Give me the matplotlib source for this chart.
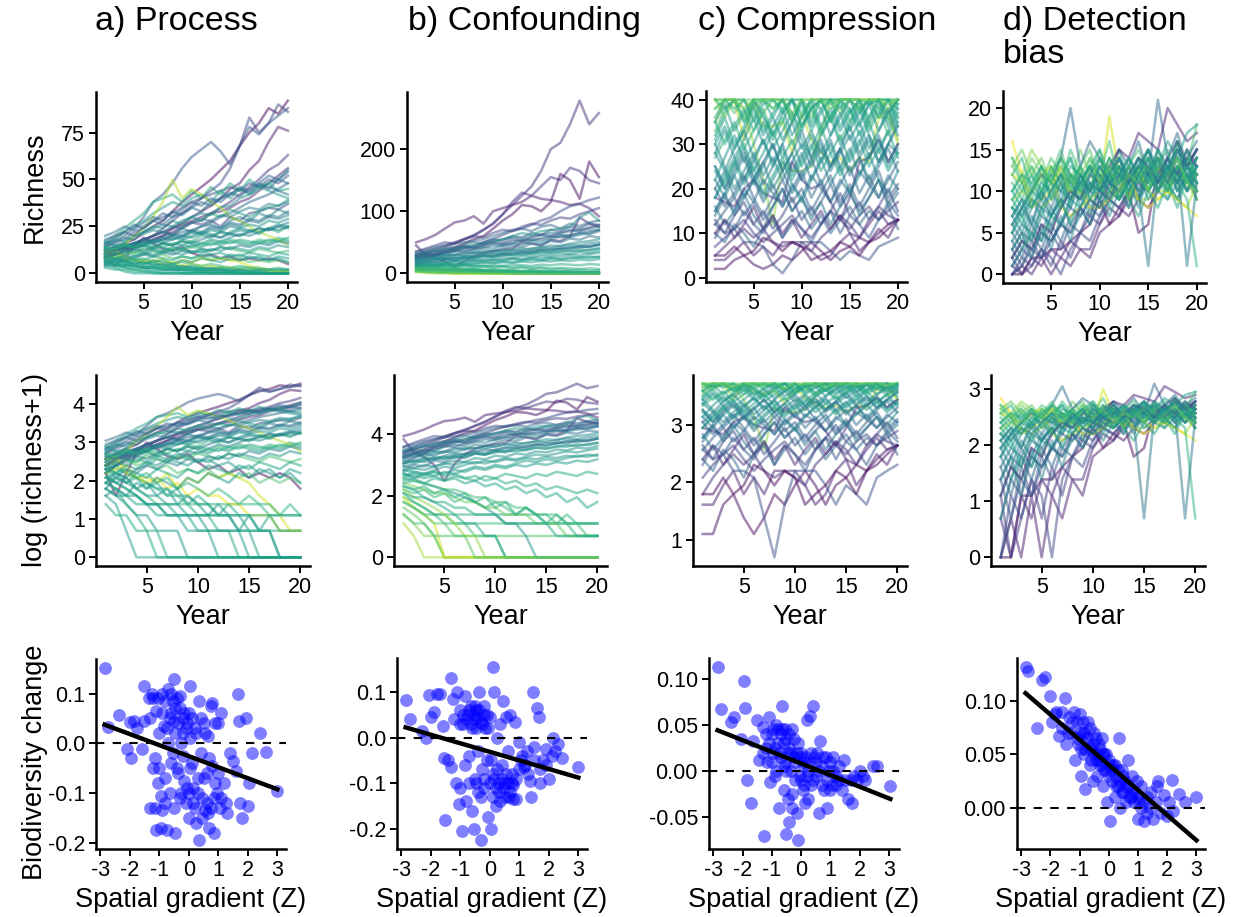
import matplotlib.pyplot as plt
import numpy as np
from matplotlib.colors import Normalize

plt.rcParams['font.family'] = ['Liberation Sans', 'DejaVu Sans']
plt.rcParams['axes.unicode_minus'] = False

years = np.arange(1, 21)

# ---- a) Process: site gradient value and yearly richness per site
z_process = [-2.9, -2.6, -1.3, -2.0, -2.4, -1.8, -1.5, -2.8, 0.2, 0.5, -0.3, 0.0, 0.8, 1.0,
             -0.6, 0.3, 1.3, 0.6, 0.6, 0.3, 0.2, 0.7, 0.4, 0.5, 0.9, 0.7, 2.6, 2.3, 2.8,
             -0.9, -0.1, 0.1, 1.2, -1.0, 0.6, 0.4, -1.7, 0.5, -0.4,
             -0.7, 0.1, -0.4, 0.5, 0.9, -0.2, 0.3, 0.0, -1.1, 0.2, 0.7, -0.5, 0.2, 0.3, -0.8, 0.4]
rich_process = [
    [12, 14, 16, 18, 22, 25, 28, 33, 38, 42, 46, 50, 55, 60, 68, 75, 80, 88, 85, 92],
    [10, 12, 13, 15, 17, 20, 22, 24, 27, 30, 33, 36, 40, 45, 48, 55, 60, 70, 78, 76],
    [14, 17, 20, 24, 30, 38, 42, 48, 56, 62, 66, 70, 65, 58, 68, 78, 74, 80, 84, 88],
    [10, 11, 13, 14, 16, 18, 20, 22, 25, 27, 28, 32, 35, 38, 42, 46, 50, 55, 58, 63],
    [8, 10, 12, 14, 15, 18, 20, 24, 26, 28, 30, 32, 33, 35, 38, 40, 44, 48, 52, 56],
    [12, 13, 15, 16, 18, 20, 22, 21, 24, 27, 26, 28, 25, 30, 28, 32, 33, 35, 34, 37],
    [14, 16, 18, 22, 24, 28, 30, 32, 35, 38, 40, 42, 44, 46, 44, 48, 46, 50, 48, 52],
    [8, 4, 8, 14, 19, 16, 13, 12, 14, 11, 9, 10, 8, 9, 7, 8, 7, 8, 7, 5],
    [15, 18, 22, 25, 28, 32, 35, 38, 36, 40, 42, 38, 44, 40, 45, 42, 46, 44, 42, 40],
    [12, 14, 16, 20, 22, 25, 24, 28, 26, 30, 28, 32, 30, 34, 32, 30, 33, 35, 36, 38],
    [10, 12, 14, 15, 18, 20, 22, 20, 24, 22, 25, 26, 24, 28, 30, 28, 32, 30, 34, 32],
    [16, 18, 17, 20, 22, 24, 26, 25, 28, 30, 32, 31, 35, 36, 40, 42, 45, 48, 50, 55],
    [8, 10, 12, 11, 14, 13, 16, 15, 18, 17, 20, 19, 22, 21, 20, 23, 22, 24, 22, 25],
    [14, 12, 14, 13, 15, 14, 16, 15, 17, 16, 15, 17, 16, 18, 17, 16, 18, 17, 19, 18],
    [11, 13, 12, 15, 17, 16, 18, 20, 19, 22, 21, 24, 23, 26, 25, 28, 27, 30, 29, 31],
    [9, 11, 10, 12, 11, 13, 12, 14, 13, 15, 14, 16, 15, 17, 16, 15, 17, 16, 18, 17],
    [13, 11, 12, 10, 11, 9, 10, 8, 9, 8, 9, 7, 8, 7, 8, 6, 7, 6, 7, 6],
    [17, 20, 24, 28, 32, 38, 40, 42, 38, 44, 40, 46, 42, 48, 44, 50, 46, 48, 44, 45],
    [10, 9, 8, 7, 6, 5, 5, 4, 4, 3, 3, 2, 2, 2, 1, 1, 1, 0, 0, 0],
    [7, 6, 5, 4, 3, 3, 2, 2, 1, 1, 1, 0, 0, 0, 0, 0, 0, 0, 0, 0],
    [5, 4, 3, 2, 2, 1, 1, 1, 0, 0, 0, 0, 0, 0, 0, 0, 0, 0, 0, 0],
    [6, 5, 3, 2, 1, 1, 0, 0, 0, 0, 0, 0, 0, 0, 0, 0, 0, 0, 0, 0],
    [4, 3, 1, 0, 0, 0, 0, 0, 0, 0, 0, 0, 0, 0, 0, 0, 0, 0, 0, 0],
    [8, 6, 5, 4, 3, 3, 3, 2, 2, 2, 2, 2, 2, 1, 1, 1, 1, 1, 1, 1],
    [9, 8, 7, 5, 4, 3, 3, 3, 3, 3, 3, 3, 3, 3, 3, 3, 2, 2, 2, 2],
    [12, 10, 8, 7, 6, 5, 4, 4, 3, 2, 2, 1, 1, 0, 0, 0, 0, 0, 0, 0],
    [12, 13, 8, 7, 7, 6, 8, 5, 7, 6, 8, 7, 8, 7, 6, 4, 3, 2, 1, 1],
    [10, 12, 15, 20, 24, 30, 38, 50, 40, 45, 42, 38, 35, 30, 28, 25, 22, 20, 18, 15],
    [8, 9, 10, 7, 6, 7, 5, 6, 4, 5, 4, 4, 3, 3, 2, 2, 2, 1, 1, 1],
    [18, 20, 22, 20, 25, 28, 26, 30, 32, 35, 33, 38, 40, 42, 45, 43, 47, 45, 50, 48],
    [6, 8, 7, 9, 10, 12, 11, 13, 15, 14, 16, 18, 17, 19, 21, 20, 22, 24, 23, 25],
    [13, 15, 14, 16, 15, 17, 19, 18, 20, 22, 21, 23, 22, 25, 24, 26, 25, 28, 27, 29],
    [11, 10, 12, 11, 13, 12, 11, 13, 12, 14, 13, 12, 14, 13, 12, 11, 13, 12, 11, 12],
    [9, 10, 12, 13, 15, 17, 18, 20, 22, 23, 25, 27, 30, 32, 35, 38, 40, 42, 45, 48],
    [3, 2, 2, 1, 1, 0, 0, 0, 0, 0, 0, 0, 0, 0, 0, 0, 0, 0, 0, 0],
    [5, 4, 4, 3, 3, 2, 2, 2, 2, 1, 1, 1, 1, 1, 1, 0, 0, 0, 0, 0],
    [10, 12, 14, 16, 18, 20, 24, 28, 32, 36, 40, 44, 48, 56, 68, 83, 75, 80, 90, 86],
    [7, 8, 6, 7, 5, 6, 4, 5, 3, 4, 3, 2, 3, 2, 2, 1, 2, 1, 1, 1],
    [5, 7, 9, 8, 10, 9, 11, 10, 12, 11, 13, 12, 14, 13, 15, 14, 16, 15, 17, 16],
    [12, 14, 13, 16, 18, 17, 19, 21, 20, 23, 22, 25, 24, 27, 26, 29, 28, 31, 30, 33],
    [9, 8, 10, 9, 11, 10, 12, 11, 10, 12, 11, 13, 12, 14, 13, 12, 14, 13, 15, 14],
    [15, 17, 19, 18, 21, 23, 22, 25, 24, 27, 29, 28, 31, 30, 33, 35, 34, 37, 36, 39],
    [6, 7, 6, 8, 7, 9, 8, 7, 9, 8, 10, 9, 8, 10, 9, 11, 10, 9, 11, 10],
    [10, 8, 9, 7, 8, 6, 7, 5, 6, 5, 4, 5, 4, 3, 4, 3, 3, 2, 3, 2],
    [13, 12, 14, 16, 15, 17, 16, 18, 20, 19, 21, 20, 22, 21, 23, 22, 24, 23, 25, 24],
    [17, 15, 16, 14, 15, 13, 14, 12, 13, 11, 12, 10, 11, 9, 10, 8, 9, 7, 8, 6],
    [11, 13, 15, 14, 16, 18, 17, 19, 18, 20, 22, 21, 19, 22, 24, 23, 21, 24, 26, 25],
    [16, 19, 22, 26, 24, 28, 32, 30, 34, 38, 36, 40, 38, 42, 46, 44, 48, 52, 50, 54],
    [7, 6, 7, 5, 6, 4, 5, 3, 4, 3, 2, 3, 2, 1, 2, 1, 1, 0, 0, 0],
    [14, 13, 15, 14, 16, 15, 14, 16, 15, 17, 16, 15, 17, 16, 18, 17, 16, 18, 17, 19],
    [8, 10, 11, 13, 12, 14, 16, 15, 17, 16, 18, 20, 19, 21, 20, 22, 24, 23, 25, 27],
    [4, 5, 4, 6, 5, 7, 6, 5, 7, 6, 8, 7, 6, 8, 7, 9, 8, 7, 9, 8],
    [9, 7, 6, 5, 4, 4, 3, 3, 2, 2, 1, 1, 1, 1, 0, 0, 0, 0, 0, 0],
    [20, 22, 25, 23, 27, 30, 28, 33, 31, 35, 38, 36, 40, 43, 41, 45, 48, 46, 44, 42],
    [6, 5, 4, 4, 3, 3, 2, 2, 2, 2, 2, 2, 2, 2, 2, 2, 2, 2, 2, 2],
]

# ---- b) Confounding
z_confound = [-2.2, -2.6, -2.0, -2.8, -1.6, -2.4, -1.2, -0.8, -0.4, 0.0, 0.3, 0.6, -0.2, 0.2,
              0.9, 1.2, 1.5, 1.8, 2.2, 2.6, 1.0, 0.8, 1.3, 0.5, 0.1, -0.6, -1.0, 0.4, 1.6,
              0.7, 2.0, -0.1, 1.1, -1.4,
              -0.5, 0.1, -0.9, 0.5, -0.3, 0.3, -1.1, 0.8, -0.7, 0.0, 1.4, 0.6, -1.8, 0.2]
rich_confound = [
    [28, 32, 36, 42, 48, 55, 62, 70, 80, 95, 110, 125, 140, 165, 200, 210, 240, 278, 240, 258],
    [50, 55, 62, 72, 82, 85, 92, 80, 100, 105, 110, 115, 125, 120, 118, 115, 110, 112, 105, 92],
    [30, 35, 40, 45, 50, 55, 60, 70, 80, 95, 115, 130, 125, 140, 155, 150, 170, 165, 150, 145],
    [25, 28, 32, 38, 42, 48, 55, 60, 72, 85, 95, 110, 108, 100, 115, 160, 150, 120, 180, 155],
    [20, 24, 28, 32, 36, 40, 45, 50, 55, 62, 68, 72, 78, 85, 90, 100, 108, 112, 118, 122],
    [45, 29, 25, 19, 11, 20, 27, 33, 36, 38, 40, 50, 48, 45, 54, 52, 60, 90, 80, 75],
    [26, 30, 28, 35, 40, 45, 42, 50, 55, 52, 60, 58, 65, 62, 70, 68, 75, 72, 80, 78],
    [22, 25, 28, 26, 30, 34, 32, 38, 36, 40, 44, 42, 48, 46, 52, 50, 56, 54, 60, 58],
    [18, 20, 22, 24, 23, 26, 28, 30, 29, 32, 34, 33, 36, 38, 37, 40, 42, 41, 44, 46],
    [15, 17, 16, 18, 20, 22, 21, 24, 23, 26, 25, 28, 27, 30, 29, 32, 31, 34, 33, 36],
    [12, 14, 13, 15, 14, 16, 15, 17, 16, 18, 17, 19, 18, 20, 19, 21, 20, 22, 21, 23],
    [10, 11, 10, 12, 11, 13, 12, 11, 13, 12, 14, 13, 12, 14, 13, 15, 14, 13, 15, 14],
    [25, 28, 32, 30, 35, 38, 36, 42, 40, 45, 48, 46, 52, 50, 55, 60, 58, 62, 65, 70],
    [30, 32, 35, 38, 40, 42, 45, 48, 50, 55, 60, 65, 62, 68, 70, 72, 75, 90, 98, 85],
    [8, 7, 8, 6, 7, 5, 6, 5, 4, 5, 4, 3, 4, 3, 3, 2, 3, 2, 2, 2],
    [6, 5, 4, 3, 3, 2, 2, 1, 1, 1, 0, 0, 0, 0, 0, 0, 0, 0, 0, 0],
    [4, 3, 2, 1, 0, 0, 0, 0, 0, 0, 0, 0, 0, 0, 0, 0, 0, 0, 0, 0],
    [3, 2, 1, 1, 0, 0, 0, 0, 0, 0, 0, 0, 0, 0, 0, 0, 0, 0, 0, 0],
    [2, 1, 0, 0, 0, 0, 0, 0, 0, 0, 0, 0, 0, 0, 0, 0, 0, 0, 0, 0],
    [6, 4, 3, 2, 0, 0, 0, 0, 0, 0, 0, 0, 0, 0, 0, 0, 0, 0, 0, 0],
    [5, 4, 3, 3, 2, 2, 2, 2, 2, 2, 2, 2, 2, 2, 2, 2, 2, 2, 2, 2],
    [7, 5, 4, 3, 3, 3, 3, 3, 3, 3, 3, 3, 3, 3, 2, 2, 2, 2, 2, 2],
    [3, 2, 2, 1, 1, 1, 1, 1, 1, 1, 1, 1, 1, 1, 1, 1, 1, 1, 1, 1],
    [9, 8, 6, 5, 4, 3, 2, 2, 1, 1, 0, 0, 0, 0, 0, 0, 0, 0, 0, 0],
    [14, 12, 10, 9, 8, 7, 6, 5, 4, 3, 2, 2, 1, 0, 0, 0, 0, 0, 0, 0],
    [32, 35, 38, 40, 42, 45, 50, 48, 52, 55, 58, 56, 60, 62, 65, 64, 68, 70, 72, 75],
    [35, 38, 42, 45, 48, 50, 52, 55, 60, 65, 70, 72, 68, 75, 78, 72, 80, 76, 82, 85],
    [20, 22, 21, 23, 25, 24, 26, 28, 27, 30, 29, 32, 31, 34, 33, 36, 35, 38, 37, 40],
    [10, 9, 8, 7, 7, 6, 5, 5, 4, 4, 3, 3, 3, 2, 2, 2, 1, 1, 1, 1],
    [16, 15, 14, 15, 13, 14, 12, 13, 11, 12, 10, 11, 9, 10, 8, 9, 8, 7, 8, 7],
    [8, 6, 5, 4, 3, 2, 1, 1, 0, 0, 0, 0, 0, 0, 0, 0, 0, 0, 0, 0],
    [24, 26, 25, 28, 30, 29, 32, 34, 33, 36, 38, 37, 40, 42, 45, 44, 48, 50, 52, 55],
    [12, 11, 10, 9, 8, 8, 7, 6, 6, 5, 5, 4, 4, 3, 3, 3, 2, 2, 1, 1],
    [28, 32, 30, 35, 38, 42, 40, 46, 50, 48, 55, 52, 58, 62, 60, 66, 70, 68, 74, 78],
    [20, 22, 24, 23, 26, 28, 27, 30, 32, 31, 34, 36, 35, 38, 40, 39, 42, 44, 43, 46],
    [18, 17, 19, 18, 20, 19, 21, 20, 22, 21, 23, 22, 24, 23, 25, 24, 26, 25, 27, 26],
    [30, 33, 36, 35, 39, 42, 41, 45, 48, 47, 51, 54, 53, 57, 60, 58, 62, 65, 63, 68],
    [14, 13, 12, 13, 11, 12, 10, 11, 9, 10, 8, 9, 7, 8, 6, 7, 5, 6, 4, 5],
    [26, 28, 27, 30, 29, 32, 34, 33, 36, 35, 38, 40, 39, 42, 41, 44, 46, 45, 48, 50],
    [11, 12, 14, 13, 15, 14, 16, 18, 17, 19, 18, 20, 22, 21, 23, 22, 24, 26, 25, 27],
    [24, 27, 30, 33, 36, 35, 39, 42, 45, 44, 48, 52, 55, 54, 58, 62, 60, 65, 68, 70],
    [9, 8, 9, 7, 8, 6, 7, 5, 6, 4, 5, 3, 4, 3, 2, 3, 2, 1, 1, 1],
    [16, 19, 18, 22, 21, 25, 24, 28, 27, 31, 30, 34, 33, 37, 36, 40, 39, 43, 42, 46],
    [22, 21, 23, 25, 24, 26, 25, 28, 27, 29, 31, 30, 32, 34, 33, 35, 37, 36, 38, 40],
    [5, 4, 3, 2, 2, 1, 1, 0, 0, 0, 0, 0, 0, 0, 0, 0, 0, 0, 0, 0],
    [7, 6, 6, 5, 5, 4, 4, 3, 3, 3, 2, 2, 2, 2, 2, 1, 1, 1, 1, 1],
    [35, 40, 45, 50, 48, 55, 60, 58, 65, 70, 68, 75, 80, 78, 85, 90, 88, 95, 100, 105],
    [13, 15, 14, 16, 18, 17, 19, 21, 20, 22, 24, 23, 25, 27, 26, 28, 30, 29, 31, 33],
]

# ---- c) Compression (richness capped at 40)
z_compress = [2.4, 2.0, -2.8, -2.5, -2.2, -1.5, -1.0, -1.8, -0.5, 0.0, 0.5, 1.0, -0.2, 0.3,
              -0.8, 0.7, 1.4, -1.2, 0.2, -0.3, -2.0, -2.9, 0.9, 1.8, -0.6, 0.4, -1.3, 1.2,
              -0.1, -2.3,
              0.6, -0.4, 0.1, -0.9, 0.8, -0.7, 0.3, -1.6, -0.1, 1.6, 0.0, -1.1, 0.5]
rich_compress = [
    [35, 40, 40, 31, 40, 34, 34, 35, 28, 37, 31, 28, 26, 27, 24, 27, 26, 36, 38, 30],
    [38, 40, 40, 38, 30, 22, 12, 26, 24, 24, 25, 33, 40, 40, 40, 40, 40, 36, 36, 31],
    [2, 2, 4, 5, 3, 2, 3, 5, 4, 6, 8, 6, 4, 6, 7, 9, 8, 10, 12, 13],
    [4, 4, 6, 8, 5, 7, 5, 8, 8, 7, 6, 4, 5, 8, 10, 6, 8, 11, 9, 13],
    [5, 7, 9, 11, 9, 11, 8, 7, 8, 8, 6, 9, 11, 14, 12, 9, 13, 16, 14, 13],
    [12, 10, 11, 8, 8, 7, 3, 1, 4, 8, 8, 8, 6, 4, 6, 5, 4, 7, 8, 9],
    [10, 8, 12, 10, 7, 11, 13, 9, 12, 15, 11, 14, 10, 13, 16, 12, 15, 13, 17, 14],
    [7, 9, 11, 13, 10, 8, 10, 12, 14, 11, 9, 12, 15, 13, 11, 14, 16, 13, 15, 17],
    [20, 24, 18, 22, 27, 21, 25, 30, 24, 28, 22, 26, 31, 25, 29, 23, 27, 32, 26, 30],
    [28, 33, 27, 31, 36, 30, 34, 38, 32, 36, 40, 34, 38, 33, 37, 40, 35, 39, 34, 38],
    [32, 37, 40, 35, 39, 40, 36, 40, 37, 33, 38, 40, 36, 40, 38, 34, 39, 40, 37, 40],
    [38, 40, 40, 36, 40, 40, 38, 40, 40, 37, 40, 40, 39, 40, 40, 38, 40, 40, 40, 39],
    [15, 19, 23, 18, 22, 26, 20, 24, 28, 22, 26, 30, 25, 29, 24, 27, 22, 26, 30, 28],
    [25, 21, 26, 30, 24, 28, 33, 27, 31, 25, 29, 34, 28, 32, 26, 30, 35, 29, 33, 27],
    [14, 18, 15, 20, 17, 22, 19, 16, 21, 18, 23, 20, 17, 22, 19, 24, 21, 18, 23, 20],
    [35, 30, 34, 38, 33, 37, 31, 35, 40, 34, 38, 32, 36, 40, 35, 39, 33, 37, 40, 36],
    [40, 40, 37, 40, 40, 40, 38, 40, 40, 40, 36, 40, 40, 40, 40, 38, 40, 40, 40, 40],
    [12, 15, 18, 14, 17, 13, 16, 20, 15, 18, 14, 17, 21, 16, 19, 15, 18, 22, 17, 20],
    [22, 27, 32, 26, 30, 35, 29, 33, 37, 31, 27, 32, 36, 30, 34, 38, 32, 28, 33, 37],
    [30, 25, 20, 24, 28, 23, 27, 22, 26, 30, 25, 29, 24, 28, 32, 27, 31, 26, 30, 34],
    [18, 17, 16, 20, 22, 19, 18, 17, 26, 22, 20, 21, 17, 13, 18, 26, 27, 31, 26, 30],
    [5, 5, 7, 5, 6, 9, 8, 6, 8, 7, 4, 5, 6, 8, 7, 5, 8, 9, 11, 13],
    [27, 31, 35, 29, 33, 38, 32, 36, 30, 34, 39, 33, 37, 31, 35, 40, 34, 38, 32, 36],
    [40, 36, 40, 40, 38, 40, 40, 40, 35, 40, 40, 40, 40, 37, 40, 40, 40, 40, 38, 40],
    [16, 12, 15, 19, 14, 11, 16, 20, 15, 18, 13, 17, 12, 16, 20, 14, 18, 22, 16, 19],
    [18, 22, 26, 21, 25, 19, 23, 27, 22, 26, 30, 24, 28, 23, 27, 31, 25, 29, 24, 28],
    [9, 13, 11, 15, 12, 10, 14, 9, 13, 11, 8, 12, 15, 10, 14, 12, 9, 13, 16, 11],
    [33, 38, 40, 35, 40, 37, 40, 40, 36, 40, 38, 40, 35, 40, 40, 37, 40, 38, 40, 40],
    [24, 20, 25, 29, 23, 18, 22, 26, 21, 17, 22, 27, 21, 25, 19, 23, 28, 22, 19, 24],
    [10, 13, 9, 12, 16, 11, 14, 10, 13, 9, 12, 15, 11, 14, 10, 9, 12, 15, 12, 13],
    [36, 40, 38, 40, 35, 39, 40, 37, 40, 36, 40, 38, 40, 40, 37, 40, 39, 40, 36, 40],
    [22, 18, 23, 27, 21, 25, 30, 24, 28, 33, 27, 31, 25, 29, 34, 28, 32, 26, 30, 35],
    [30, 34, 29, 33, 38, 32, 36, 31, 35, 40, 34, 38, 32, 36, 40, 35, 39, 33, 37, 40],
    [15, 19, 14, 18, 22, 17, 21, 16, 20, 24, 18, 22, 17, 21, 25, 19, 23, 18, 22, 26],
    [40, 38, 40, 40, 36, 40, 40, 38, 40, 40, 35, 40, 40, 38, 40, 40, 36, 40, 40, 38],
    [25, 20, 24, 28, 22, 26, 30, 24, 19, 23, 27, 21, 25, 29, 23, 27, 21, 25, 29, 24],
    [35, 39, 33, 37, 40, 36, 32, 37, 40, 34, 38, 40, 35, 39, 33, 37, 40, 36, 40, 34],
    [13, 10, 14, 17, 12, 15, 11, 14, 18, 13, 16, 12, 15, 19, 14, 17, 13, 16, 20, 15],
    [28, 24, 29, 33, 27, 31, 26, 30, 35, 29, 33, 28, 32, 37, 31, 35, 29, 33, 38, 32],
    [40, 40, 40, 38, 40, 40, 40, 40, 37, 40, 40, 40, 38, 40, 40, 40, 40, 40, 39, 40],
    [18, 23, 27, 22, 26, 31, 25, 29, 23, 27, 32, 26, 30, 24, 28, 33, 27, 31, 25, 29],
    [20, 16, 19, 23, 18, 14, 18, 22, 17, 20, 15, 19, 23, 17, 21, 16, 20, 24, 18, 21],
    [31, 36, 30, 34, 39, 33, 37, 40, 35, 39, 33, 37, 40, 34, 38, 32, 36, 40, 35, 39],
]

# ---- d) Detection bias
z_detect = [-2.9, -2.6, -2.3, -2.0, -1.7, -1.4, -1.1, -0.8, -0.5, -0.2, 0.1, 0.4, 0.7, 1.0,
            1.3, 1.6, 1.9, 2.2, 2.6, 2.9, 0.0, -0.3, 0.6, -0.9, -2.4, 0.9, -0.6, 1.2, 0.3, -1.5,
            0.2, -0.4, 0.5, -0.1, 0.8, -0.7, 1.1, 0.0, -1.2, 0.4, 1.5, -0.2]
rich_detect = [
    [0, 0, 2, 2, 3, 3, 4, 5, 6, 9, 6, 7, 10, 5, 6, 13, 11, 15, 13, 14],
    [0, 1, 0, 2, 0, 2, 1, 3, 2, 5, 6, 8, 7, 9, 8, 10, 12, 11, 13, 12],
    [1, 0, 2, 1, 3, 2, 4, 3, 3, 6, 8, 7, 9, 11, 10, 12, 11, 14, 13, 15],
    [2, 0, 1, 3, 1, 4, 2, 5, 7, 6, 9, 8, 10, 9, 12, 11, 13, 12, 14, 13],
    [0, 2, 1, 3, 2, 0, 3, 5, 4, 7, 9, 8, 10, 12, 11, 14, 12, 16, 13, 15],
    [3, 1, 4, 2, 5, 3, 6, 5, 8, 7, 10, 9, 11, 13, 10, 12, 14, 11, 13, 12],
    [4, 2, 5, 3, 6, 4, 7, 8, 6, 9, 11, 10, 12, 9, 13, 11, 14, 12, 10, 13],
    [5, 3, 6, 4, 7, 9, 6, 8, 10, 9, 12, 11, 8, 12, 10, 13, 11, 9, 12, 14],
    [6, 4, 7, 5, 8, 6, 9, 11, 8, 10, 13, 9, 12, 10, 14, 11, 13, 10, 12, 11],
    [7, 5, 8, 10, 7, 9, 12, 8, 11, 9, 12, 10, 13, 9, 11, 14, 10, 12, 15, 11],
    [8, 6, 9, 7, 10, 8, 11, 13, 9, 12, 10, 14, 11, 9, 13, 10, 12, 16, 11, 13],
    [9, 7, 10, 12, 9, 11, 8, 12, 10, 13, 11, 9, 12, 14, 10, 13, 11, 8, 12, 10],
    [10, 8, 11, 9, 12, 14, 10, 13, 11, 9, 12, 15, 11, 13, 10, 12, 9, 13, 11, 14],
    [11, 9, 12, 10, 13, 11, 15, 12, 10, 14, 11, 13, 10, 12, 15, 11, 14, 10, 13, 11],
    [12, 10, 13, 11, 14, 12, 10, 13, 15, 11, 14, 12, 9, 13, 11, 15, 12, 14, 10, 12],
    [13, 11, 14, 12, 10, 13, 11, 15, 12, 10, 14, 11, 13, 12, 10, 14, 11, 13, 12, 9],
    [14, 12, 15, 13, 11, 14, 12, 10, 13, 11, 9, 13, 11, 12, 10, 13, 10, 12, 11, 9],
    [9, 10, 9, 8, 9, 11, 10, 10, 9, 8, 10, 11, 10, 9, 9, 10, 10, 9, 8, 11],
    [12, 11, 10, 12, 13, 8, 7, 8, 9, 10, 19, 12, 9, 13, 10, 9, 10, 13, 11, 12],
    [16, 12, 8, 9, 10, 13, 9, 10, 8, 8, 9, 10, 12, 9, 8, 9, 10, 9, 8, 7],
    [2, 4, 3, 5, 4, 6, 5, 7, 9, 8, 10, 9, 11, 8, 12, 10, 9, 11, 13, 10],
    [3, 5, 2, 6, 3, 7, 4, 8, 6, 9, 7, 10, 8, 12, 9, 11, 13, 10, 12, 9],
    [5, 7, 4, 8, 5, 9, 6, 10, 7, 11, 8, 12, 9, 7, 10, 8, 11, 9, 12, 10],
    [6, 8, 10, 12, 11, 14, 20, 13, 16, 14, 12, 15, 13, 16, 12, 21, 14, 17, 13, 15],
    [2, 4, 3, 6, 5, 8, 10, 9, 12, 11, 13, 15, 14, 17, 16, 15, 20, 18, 16, 17],
    [8, 10, 12, 9, 13, 11, 14, 10, 12, 15, 11, 13, 9, 12, 14, 10, 13, 11, 9, 1],
    [7, 9, 6, 10, 8, 11, 9, 12, 10, 13, 11, 14, 12, 10, 1, 12, 10, 13, 1, 11],
    [10, 12, 9, 13, 11, 8, 12, 10, 14, 12, 16, 11, 13, 15, 12, 14, 11, 16, 13, 18],
    [1, 3, 5, 4, 7, 6, 9, 8, 11, 10, 13, 12, 14, 12, 15, 13, 16, 14, 17, 18],
    [0, 1, 3, 2, 4, 6, 5, 8, 7, 10, 9, 12, 11, 13, 15, 12, 14, 16, 13, 15],
    [6, 8, 10, 9, 11, 10, 12, 11, 13, 12, 10, 13, 11, 14, 12, 10, 13, 11, 14, 12],
    [4, 6, 5, 8, 7, 9, 8, 11, 10, 12, 9, 11, 13, 10, 12, 14, 11, 13, 10, 12],
    [10, 12, 11, 13, 9, 12, 14, 11, 13, 10, 12, 14, 11, 13, 15, 12, 10, 13, 11, 14],
    [8, 7, 9, 8, 10, 12, 9, 11, 13, 10, 12, 9, 11, 14, 12, 10, 13, 15, 12, 10],
    [12, 14, 10, 13, 11, 14, 12, 10, 13, 15, 12, 11, 14, 12, 10, 13, 15, 11, 13, 12],
    [3, 5, 4, 7, 6, 8, 10, 9, 11, 10, 12, 14, 11, 13, 12, 15, 13, 11, 14, 16],
    [14, 11, 13, 10, 12, 15, 11, 13, 10, 14, 12, 9, 13, 11, 14, 12, 10, 13, 15, 11],
    [7, 9, 8, 11, 10, 12, 11, 9, 12, 14, 11, 13, 10, 12, 14, 11, 13, 12, 10, 13],
    [1, 3, 2, 5, 4, 6, 8, 7, 9, 8, 11, 10, 12, 14, 13, 11, 14, 12, 15, 13],
    [9, 11, 8, 10, 12, 10, 13, 12, 9, 11, 14, 12, 10, 13, 11, 15, 12, 14, 11, 13],
    [13, 15, 12, 14, 11, 13, 10, 12, 14, 11, 13, 10, 12, 11, 13, 10, 12, 14, 11, 10],
    [5, 8, 6, 9, 7, 10, 9, 12, 10, 13, 11, 12, 14, 11, 13, 10, 12, 15, 13, 11],
]

# ---- biodiversity change against spatial gradient, (Z, change) per site
points_process = [
    (-2.85, 0.152), (-2.75, 0.032), (-2.35, 0.056), (-2.1, -0.012), (-2.0, 0.042), (-1.95, -0.03),
    (-1.85, 0.045), (-1.75, 0.03), (-1.6, -0.011), (-1.5, 0.045), (-1.5, 0.115), (-1.35, 0.09),
    (-1.3, 0.05), (-1.25, 0.1), (-1.2, 0.09), (-1.15, -0.03), (-1.15, -0.13), (-1.1, 0.065),
    (-1.1, -0.175), (-1.05, -0.08), (-1.0, 0.02), (-1.0, -0.05), (-0.95, -0.105), (-0.95, -0.17),
    (-0.9, 0.1), (-0.9, -0.135), (-0.85, 0.035), (-0.8, -0.07), (-0.8, -0.12), (-0.75, -0.175),
    (-0.7, 0.11), (-0.7, 0.0), (-0.65, -0.1), (-0.6, 0.06), (-0.6, -0.04), (-0.55, 0.085),
    (-0.5, 0.13), (-0.5, -0.13), (-0.45, 0.02), (-0.45, -0.18), (-0.4, 0.09), (-0.4, -0.05),
    (-0.35, 0.04), (-0.3, -0.11), (-0.3, 0.07), (-0.25, 0.0), (-0.2, -0.025), (-0.2, 0.05),
    (-0.15, -0.075), (-0.1, 0.03), (-0.05, -0.09), (0.0, -0.15), (0.05, 0.115), (0.05, 0.01),
    (0.1, -0.04), (0.15, -0.12), (0.2, 0.03), (0.25, -0.16), (0.3, -0.07), (0.35, 0.085),
    (0.35, -0.195), (0.4, -0.02), (0.45, -0.11), (0.5, 0.04), (0.55, -0.135), (0.6, -0.06),
    (0.65, 0.015), (0.7, -0.17), (0.75, 0.075), (0.8, -0.045), (0.85, -0.18), (0.9, 0.04),
    (0.95, -0.1), (1.0, -0.06), (1.05, -0.13), (1.1, 0.06), (1.2, -0.08), (1.3, -0.14),
    (1.4, -0.02), (1.5, -0.035), (1.6, -0.055), (1.65, 0.1), (1.7, 0.045), (1.75, -0.12),
    (1.8, -0.15), (1.95, 0.05), (2.0, -0.125), (2.05, -0.08), (2.15, -0.02), (2.4, 0.02),
    (2.6, -0.018), (3.0, -0.095),
    (-0.9, 0.06), (-0.8, 0.085), (-0.75, 0.03), (-0.6, 0.1), (-0.55, -0.02), (-0.5, 0.045),
    (-0.45, 0.07), (-0.35, -0.06), (-0.3, 0.095), (-0.25, -0.1), (-0.2, 0.02), (-0.15, 0.06),
    (-0.1, -0.12), (-0.05, 0.04), (0.0, 0.06), (0.0, -0.1), (0.05, -0.05), (0.1, 0.05),
    (0.15, -0.09), (0.2, -0.13), (0.25, 0.02), (0.3, -0.1), (0.4, 0.05), (0.45, -0.15),
    (0.5, -0.07), (0.55, 0.02), (0.6, -0.12), (0.65, -0.14), (0.7, -0.03), (0.75, -0.13),
    (0.8, 0.08), (0.85, -0.11), (0.9, -0.08), (1.0, 0.04), (1.1, -0.11), (1.25, -0.12),
    (-1.2, -0.05), (-1.3, -0.13), (-1.05, 0.09), (-0.65, 0.05),
]
points_confound = [
    (-2.85, 0.083), (-2.7, 0.04), (-2.3, 0.015), (-2.15, 0.0), (-2.05, 0.093), (-2.0, 0.045),
    (-1.9, 0.055), (-1.8, 0.095), (-1.7, 0.095), (-1.6, 0.025), (-1.55, -0.045), (-1.5, -0.18),
    (-1.4, -0.05), (-1.3, 0.13), (-1.3, -0.065), (-1.25, 0.085), (-1.2, 0.04), (-1.15, -0.1),
    (-1.1, 0.1), (-1.05, -0.145), (-1.0, 0.06), (-1.0, -0.11), (-0.95, -0.205), (-0.9, 0.03),
    (-0.85, 0.09), (-0.85, -0.06), (-0.8, -0.14), (-0.75, 0.05), (-0.7, -0.04), (-0.7, -0.1),
    (-0.65, 0.07), (-0.6, 0.02), (-0.6, -0.16), (-0.55, -0.2), (-0.5, 0.04), (-0.5, -0.09),
    (-0.45, 0.06), (-0.4, -0.03), (-0.4, -0.12), (-0.35, 0.1), (-0.3, 0.035), (-0.3, -0.225),
    (-0.25, -0.07), (-0.2, 0.05), (-0.2, -0.11), (-0.15, 0.02), (-0.1, -0.05), (-0.05, -0.175),
    (0.0, 0.045), (0.05, -0.2), (0.1, 0.155), (0.1, -0.08), (0.15, 0.1), (0.2, -0.15),
    (0.25, 0.0), (0.3, -0.12), (0.35, 0.03), (0.4, -0.06), (0.45, 0.08), (0.5, -0.1),
    (0.55, 0.045), (0.6, -0.03), (0.65, -0.13), (0.7, 0.05), (0.75, -0.08), (0.8, -0.105),
    (0.85, 0.035), (0.9, -0.135), (1.0, -0.01), (1.05, -0.05), (1.15, -0.065), (1.25, -0.03),
    (1.35, -0.095), (1.4, -0.13), (1.45, 0.1), (1.5, -0.02), (1.6, 0.065), (1.65, 0.045),
    (1.7, -0.1), (1.8, -0.05), (1.9, -0.025), (2.0, -0.09), (2.1, -0.04), (2.15, 0.0),
    (2.3, -0.015), (2.45, -0.045), (3.0, -0.065),
    (-1.0, 0.03), (-0.9, 0.05), (-0.8, 0.04), (-0.7, 0.06), (-0.65, 0.03), (-0.55, 0.05),
    (-0.5, 0.07), (-0.45, 0.02), (-0.4, 0.045), (-0.35, 0.06), (-0.25, 0.03), (-0.2, 0.07),
    (-0.1, 0.05), (-0.05, 0.02), (0.0, -0.1), (0.05, -0.05), (0.1, -0.13), (0.15, -0.09),
    (0.2, -0.11), (0.25, -0.07), (0.3, -0.1), (0.35, -0.14), (0.4, -0.09), (0.45, -0.11),
    (0.5, -0.13), (0.55, -0.08), (0.6, -0.1), (0.7, -0.12), (0.75, -0.1), (0.8, -0.135),
    (0.9, -0.09), (1.0, -0.07), (1.1, -0.04), (1.2, -0.06), (1.3, -0.08), (1.5, -0.05),
    (1.7, -0.07), (1.9, -0.06), (2.2, -0.03), (-0.45, -0.1), (-0.3, -0.13), (-0.2, -0.09),
]
points_compress = [
    (-2.85, 0.113), (-2.75, 0.067), (-2.4, 0.053), (-2.3, 0.058), (-2.05, 0.035), (-1.95, 0.097),
    (-1.9, 0.068), (-1.85, -0.01), (-1.7, -0.035), (-1.65, 0.033), (-1.5, 0.055), (-1.45, 0.012),
    (-1.3, 0.048), (-1.25, -0.07), (-1.2, 0.025), (-1.15, 0.01), (-1.1, 0.058), (-1.05, -0.012),
    (-1.0, 0.04), (-0.95, 0.02), (-0.9, -0.005), (-0.85, 0.05), (-0.8, 0.03), (-0.75, -0.04),
    (-0.7, 0.015), (-0.65, 0.07), (-0.65, 0.045), (-0.6, -0.02), (-0.55, 0.01), (-0.5, 0.035),
    (-0.5, -0.068), (-0.45, -0.03), (-0.4, 0.025), (-0.4, -0.055), (-0.35, 0.0), (-0.3, 0.045),
    (-0.3, -0.025), (-0.25, 0.015), (-0.2, -0.01), (-0.15, -0.045), (-0.1, 0.03), (-0.1, -0.075),
    (-0.05, -0.005), (0.0, 0.02), (0.05, -0.02), (0.1, 0.01), (0.15, -0.035), (0.2, 0.055),
    (0.25, 0.0), (0.3, 0.06), (0.35, -0.015), (0.4, 0.07), (0.45, 0.015), (0.5, -0.005),
    (0.55, 0.02), (0.6, -0.045), (0.65, 0.032), (0.7, 0.005), (0.8, -0.02), (0.85, 0.015),
    (0.9, -0.04), (0.95, 0.0), (1.0, 0.01), (1.05, -0.015), (1.1, 0.015), (1.2, -0.005),
    (1.3, 0.005), (1.4, -0.02), (1.45, 0.012), (1.5, -0.01), (1.6, -0.03), (1.7, -0.01),
    (1.75, -0.035), (1.8, -0.005), (1.9, -0.01), (2.0, 0.0), (2.1, -0.005), (2.2, -0.01),
    (2.45, 0.005), (2.6, 0.005), (3.05, -0.016),
    (-1.2, 0.04), (-1.1, 0.03), (-1.0, 0.01), (-0.95, 0.045), (-0.9, 0.025), (-0.85, 0.0),
    (-0.8, 0.045), (-0.75, 0.02), (-0.7, 0.04), (-0.6, 0.03), (-0.55, 0.045), (-0.5, 0.0),
    (-0.45, 0.02), (-0.4, 0.04), (-0.35, 0.02), (-0.25, 0.035), (-0.2, 0.01), (-0.15, 0.02),
    (-0.05, 0.015), (0.0, -0.01), (0.05, 0.005), (0.1, -0.015), (0.15, 0.015), (0.2, -0.005),
    (0.3, 0.01), (0.35, 0.02), (0.4, -0.01), (0.5, 0.01), (0.6, 0.0), (0.7, -0.015),
    (0.75, 0.015), (0.9, -0.01), (1.0, -0.02), (1.1, 0.0), (1.2, -0.015), (1.3, -0.01),
    (-1.3, 0.02), (-0.3, -0.04), (0.25, -0.03), (-0.6, 0.005),
]
points_detect = [
    (-2.85, 0.132), (-2.75, 0.128), (-2.3, 0.12), (-2.2, 0.122), (-2.45, 0.075), (-2.0, 0.105),
    (-1.95, 0.08), (-1.85, 0.088), (-1.7, 0.067), (-1.6, 0.09), (-1.5, 0.103), (-1.45, 0.06),
    (-1.35, 0.085), (-1.3, 0.07), (-1.2, 0.09), (-1.15, 0.045), (-1.1, 0.08), (-1.05, 0.06),
    (-1.0, 0.088), (-0.95, 0.03), (-0.9, 0.07), (-0.85, 0.05), (-0.8, 0.018), (-0.75, 0.065),
    (-0.7, 0.08), (-0.65, 0.04), (-0.6, 0.055), (-0.55, 0.025), (-0.5, 0.07), (-0.45, 0.045),
    (-0.4, 0.03), (-0.35, 0.06), (-0.3, 0.04), (-0.25, 0.065), (-0.2, 0.02), (-0.15, 0.05),
    (-0.1, 0.035), (-0.05, 0.005), (0.0, 0.045), (0.05, -0.012), (0.1, 0.025), (0.15, 0.04),
    (0.2, 0.01), (0.25, 0.03), (0.3, 0.02), (0.35, 0.065), (0.4, 0.0), (0.45, 0.035),
    (0.5, 0.015), (0.55, 0.025), (0.6, 0.005), (0.65, 0.045), (0.7, 0.02), (0.75, 0.01),
    (0.8, 0.03), (0.9, 0.015), (0.95, 0.025), (1.0, -0.01), (1.05, 0.005), (1.1, 0.02),
    (1.2, -0.012), (1.3, 0.01), (1.4, 0.0), (1.45, 0.015), (1.5, -0.01), (1.6, 0.005),
    (1.65, 0.02), (1.7, 0.025), (1.8, -0.005), (1.9, 0.012), (2.0, -0.008), (2.05, 0.005),
    (2.15, 0.026), (2.2, -0.003), (2.4, 0.013), (2.6, 0.005), (3.0, 0.01),
    (-1.4, 0.07), (-1.25, 0.08), (-1.1, 0.065), (-1.0, 0.07), (-0.95, 0.055), (-0.9, 0.08),
    (-0.85, 0.07), (-0.8, 0.055), (-0.7, 0.06), (-0.65, 0.075), (-0.6, 0.045), (-0.55, 0.06),
    (-0.5, 0.05), (-0.45, 0.065), (-0.4, 0.05), (-0.35, 0.045), (-0.3, 0.055), (-0.25, 0.04),
    (-0.2, 0.05), (-0.15, 0.035), (-0.1, 0.05), (0.0, 0.03), (0.05, 0.04), (0.1, 0.035),
    (0.2, 0.04), (0.25, 0.02), (0.3, 0.035), (0.4, 0.025), (0.45, 0.015), (0.5, 0.03),
    (0.6, 0.02), (0.7, 0.01), (0.8, 0.015), (0.85, 0.005), (1.0, 0.01), (1.1, 0.0),
    (1.2, 0.005), (1.3, -0.005), (-1.6, 0.075), (-1.8, 0.09),
]

titles = ['a) Process', 'b) Confounding', 'c) Compression', 'd) Detection\nbias']
title_x = [95, 408, 698, 1003]
z_all = [z_process, z_confound, z_compress, z_detect]
rich_all = [rich_process, rich_confound, rich_compress, rich_detect]
points_all = [points_process, points_confound, points_compress, points_detect]

rich_ticks = [[0, 25, 50, 75], [0, 100, 200], [0, 10, 20, 30, 40], [0, 5, 10, 15, 20]]
log_ticks = [[0, 1, 2, 3, 4], [0, 2, 4], [1, 2, 3], [0, 1, 2, 3]]
change_ticks = [[-0.2, -0.1, 0.0, 0.1], [-0.2, -0.1, 0.0, 0.1],
                [-0.05, 0.0, 0.05, 0.10], [0.0, 0.05, 0.10]]
change_fmt = ['%.1f', '%.1f', '%.2f', '%.2f']

# panel boxes in pixels: left, top, right, bottom
boxes_rich = [(96, 92, 297, 282), (407, 92, 608, 282), (706, 91, 907, 282), (1003, 91, 1206, 283)]
boxes_log = [(96, 375, 310, 566), (394, 375, 607, 566), (693, 375, 907, 566), (991, 375, 1205, 566)]
boxes_change = [(96, 659, 286, 849), (397, 658, 587, 849), (709, 658, 899, 849), (1017, 658, 1205, 849)]

W, H = 1239, 917
fig = plt.figure(figsize=(W / 100, H / 100), dpi=100)
cmap = plt.get_cmap('viridis')
norm = Normalize(-3, 3)

TICK_SIZE = 15.5
LABEL_SIZE = 19.5


def panel(box):
    l, t, r, b = box
    ax = fig.add_axes([l / W, 1 - b / H, (r - l) / W, (b - t) / H])
    ax.spines['top'].set_visible(False)
    ax.spines['right'].set_visible(False)
    ax.spines['left'].set_linewidth(1.8)
    ax.spines['bottom'].set_linewidth(1.8)
    ax.tick_params(length=5, width=1.4, labelsize=TICK_SIZE, pad=3, colors='black')
    return ax


for i in range(4):
    # raw richness
    ax = panel(boxes_rich[i])
    for z, r in zip(z_all[i], rich_all[i]):
        ax.plot(years, r, color=cmap(norm(z)), alpha=0.5, lw=1.8)
    ax.set_xticks([5, 10, 15, 20])
    ax.set_yticks(rich_ticks[i])
    ax.set_xlabel('Year', fontsize=LABEL_SIZE, labelpad=4)

    # log-transformed richness
    ax = panel(boxes_log[i])
    for z, r in zip(z_all[i], rich_all[i]):
        ax.plot(years, np.log1p(r), color=cmap(norm(z)), alpha=0.5, lw=1.8)
    ax.set_xticks([5, 10, 15, 20])
    ax.set_yticks(log_ticks[i])
    ax.set_xlabel('Year', fontsize=LABEL_SIZE, labelpad=4)

    # change vs gradient with linear fit
    ax = panel(boxes_change[i])
    gx, gy = np.array(points_all[i]).T
    ax.scatter(gx, gy, s=85, color='#0000ff', alpha=0.5, linewidths=0, zorder=2)
    ax.axhline(0, color='black', lw=1.5, ls=(0, (4, 4)), zorder=3)
    coef = np.polyfit(gx, gy, 1)
    xs = np.array([gx.min(), gx.max()])
    ax.plot(xs, np.polyval(coef, xs), color='black', lw=3.2, zorder=4)
    ax.set_xticks(range(-3, 4))
    ax.set_yticks(change_ticks[i])
    ax.yaxis.set_major_formatter(plt.FormatStrFormatter(change_fmt[i]))
    ax.set_xlabel('Spatial gradient (Z)', fontsize=LABEL_SIZE, labelpad=4)

    fig.text(title_x[i] / W, 1 - 6 / H, titles[i], fontsize=24.5, ha='left', va='top',
             linespacing=1.1)

fig.text(35 / W, 1 - 187 / H, 'Richness', rotation=90, ha='center', va='center', fontsize=LABEL_SIZE)
fig.text(35 / W, 1 - 470 / H, 'log (richness+1)', rotation=90, ha='center', va='center', fontsize=LABEL_SIZE)
fig.text(35 / W, 1 - 762 / H, 'Biodiversity change', rotation=90, ha='center', va='center', fontsize=LABEL_SIZE)

fig.savefig('out.png', dpi=100)
